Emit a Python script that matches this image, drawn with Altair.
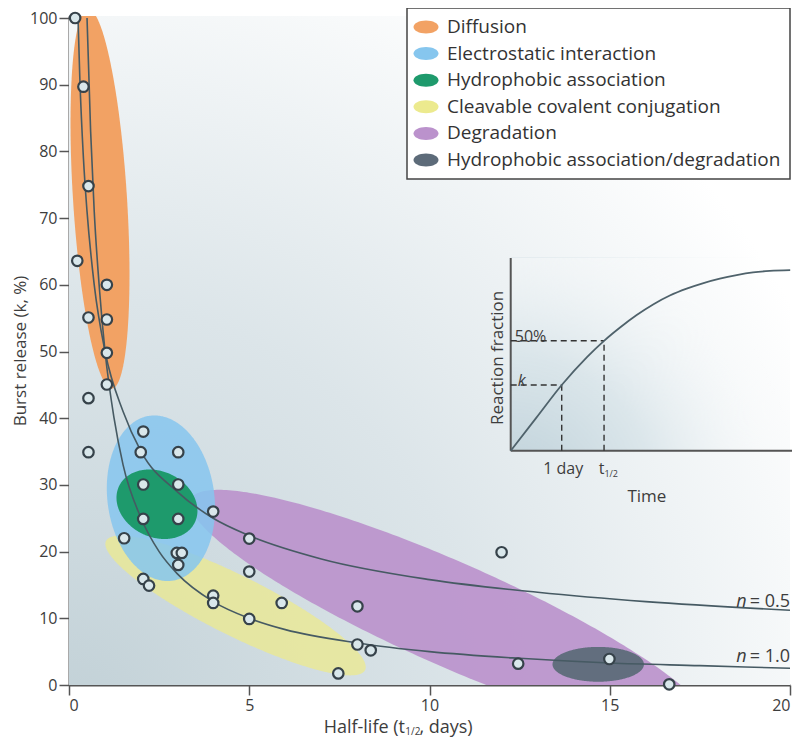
import altair as alt
import numpy as np
import pandas as pd

FONT = "Open Sans"
TXT = "#3d3d3d"

# ---------------- data ----------------
half_life = [0.17, 0.40, 0.54, 0.23, 0.54, 1.05, 1.05, 1.05, 1.05, 0.54, 0.54,
             2.06, 1.99, 3.03, 2.06, 3.03, 2.06, 3.03, 1.53, 2.99, 3.13, 3.03,
             2.06, 2.22, 4.00, 4.00, 4.00, 5.00, 5.00, 5.00, 5.90, 7.47, 8.00,
             8.00, 8.37, 12.0, 12.46, 14.99, 16.65]
burst = [100.0, 89.7, 74.8, 63.6, 55.1, 60.0, 54.8, 49.8, 45.05, 43.0, 34.9,
         38.0, 34.9, 34.9, 30.06, 30.06, 24.9, 24.9, 22.0, 19.8, 19.8, 18.0,
         15.9, 14.9, 26.0, 13.4, 12.3, 21.95, 17.0, 9.9, 12.3, 1.74, 11.8,
         6.07, 5.2, 19.9, 3.2, 3.9, 0.1]

curve_n1_t = [0.5, 0.6, 0.7, 0.85, 1.0, 1.25, 1.5, 2.0, 2.5, 3.0, 4.0, 5.0,
              6.0, 8.0, 10.0, 12.5, 15.0, 17.5, 20.0]
curve_n1_k = [100, 83, 71, 59, 50, 40, 33, 25, 20, 16.7, 12.5, 10, 8.3, 6.3,
              5.0, 4.0, 3.3, 2.9, 2.5]
curve_n05_t = [0.25, 0.3, 0.4, 0.5, 0.7, 1.0, 1.5, 2.0, 3.0, 4.0, 5.0, 7.0,
               10.0, 13.0, 16.0, 20.0]
curve_n05_k = [100, 91, 79, 71, 60, 50, 41, 35, 29, 25, 22.4, 18.9, 15.8,
               13.9, 12.5, 11.2]

mechanisms = ["Diffusion", "Electrostatic interaction", "Hydrophobic association",
              "Cleavable covalent conjugation", "Degradation",
              "Hydrophobic association/degradation"]
mech_colors = ["#f2a264", "#86c6ee", "#1e9a6c", "#ecea8e", "#bb92cc", "#5d6b79"]
mech_opacity = [1.0, 0.85, 1.0, 0.75, 0.92, 0.95]
draw_order = [4, 3, 1, 2, 0, 5]

# regions: centre and two conjugate semi-axis vectors (data units)
reg_cx = [0.86, 2.55, 2.44, 4.62, 10.6, 14.68]
reg_cy = [72.9, 28.0, 27.1, 11.92, 10.6, 3.10]
reg_ux = [-0.333, -0.305, 1.054, 3.592, 7.22, 1.268]
reg_uy = [28.46, 12.37, -2.683, -9.687, -17.27, 0.0]
reg_vx = [0.747, 1.470, -0.388, -0.372, -0.586, 0.0]
reg_vy = [0.253, 1.043, -4.471, -3.994, -7.07, 2.61]

# inset (reaction fraction vs time)
inset_t = [0, 0.5, 1.0, 1.5, 1.83, 2.15, 2.47, 2.8, 3.12, 3.45, 3.78, 4.1,
           4.43, 4.75, 5.08, 5.48]
inset_f = [0, 14.8, 29.6, 42.3, 49.5, 55.6, 61.1, 66.0, 69.9, 73.0, 75.5,
           77.5, 79.1, 80.3, 81.0, 81.3]
inset_day, inset_k = 1.0, 29.6
inset_half, inset_50 = 1.83, 49.5

# ---------------- helpers ----------------
def ellipse_rows(name, cx, cy, ux, uy, vx, vy, n=160):
    R = np.hypot(ux, vx)
    phi = np.arctan2(vx, ux)
    a = np.linspace(np.pi, 0, n)
    x = cx + R * np.cos(a)
    y1 = cy + uy * np.cos(phi + a) + vy * np.sin(phi + a)
    y2 = cy + uy * np.cos(phi - a) + vy * np.sin(phi - a)
    return pd.DataFrame({"name": name, "ex": x, "elo": np.minimum(y1, y2),
                         "ehi": np.maximum(y1, y2)})

W, H = 721, 669
YMAX = 100.3
xs = alt.Scale(domain=[0, 20], nice=False, zero=False)
ys = alt.Scale(domain=[0, YMAX], nice=False, zero=False)
xaxis = alt.Axis(values=[0, 5, 10, 15, 20], title=None, grid=False, tickSize=10,
                 labelPadding=2, labelFontSize=16, labelFont=FONT, labelColor=TXT,
                 domainColor="#555", domainWidth=2, tickColor="#555", tickWidth=1.5)
yaxis = alt.Axis(values=list(range(0, 101, 10)), title="Burst release (k, %)",
                 grid=False, tickSize=10, labelPadding=2, labelFontSize=16,
                 labelFont=FONT, labelColor=TXT, titleFont=FONT, titleFontSize=17,
                 titleFontWeight="normal", titleColor=TXT, titlePadding=0,
                 domainColor="#555", domainWidth=2, tickColor="#555", tickWidth=1.5)

def X(f):
    return alt.X(f, type="quantitative", scale=xs, axis=xaxis)

def Y(f):
    return alt.Y(f, type="quantitative", scale=ys, axis=yaxis)

color_scale = alt.Scale(domain=mechanisms, range=mech_colors)
ELL = ("M -1.25 0 C -1.25 -0.36 -0.69 -0.65 0 -0.65 C 0.69 -0.65 1.25 -0.36 1.25 0 "
       "C 1.25 0.36 0.69 0.65 0 0.65 C -0.69 0.65 -1.25 0.36 -1.25 0 Z")
legend = alt.Legend(title=None, orient="none", legendX=338, legendY=-8,
                    symbolType=ELL, symbolSize=400, symbolStrokeWidth=0,
                    symbolOpacity=1, labelFont=FONT, labelFontSize=19,
                    labelColor="#333", labelOffset=11, rowPadding=6.6, padding=9,
                    strokeColor="#444", fillColor="white", labelLimit=500)

bg = alt.Chart(pd.DataFrame({"x0": [0], "x1": [20], "y0": [0], "y1": [YMAX]})).mark_rect(
    fill=alt.RadialGradient(gradient="radial", x1=0, y1=1, r1=0, x2=0, y2=1, r2=1.15,
                            stops=[alt.GradientStop(offset=0, color="#c2d1d7"),
                                   alt.GradientStop(offset=0.5, color="#dce5e9"),
                                   alt.GradientStop(offset=1, color="#ffffff")])
).encode(x=X("x0"), x2="x1", y=Y("y0"), y2="y1")

layers = [bg]
for i in draw_order:
    d = ellipse_rows(mechanisms[i], reg_cx[i], reg_cy[i], reg_ux[i], reg_uy[i],
                     reg_vx[i], reg_vy[i])
    layers.append(alt.Chart(d).mark_area(opacity=mech_opacity[i], clip=True).encode(
        x=X("ex"), y=Y("elo"), y2="ehi",
        color=alt.Color("name:N", scale=color_scale, legend=legend)))

c1 = pd.DataFrame({"t": curve_n1_t, "k": curve_n1_k})
c05 = pd.DataFrame({"t": curve_n05_t, "k": curve_n05_k})
for c in (c1, c05):
    layers.append(alt.Chart(c).mark_line(color="#465a63", strokeWidth=1.6,
                                         interpolate="monotone", clip=True).encode(
        x=X("t"), y=Y("k")))

pts = pd.DataFrame({"t": half_life, "k": burst})
layers.append(alt.Chart(pts).mark_circle(size=110, color="#d9e7eb", opacity=1,
                                         stroke="#36424a", strokeWidth=2.2).encode(
    x=X("t"), y=Y("k")))

# curve labels
lab = pd.DataFrame({"x": [20, 20], "y": [12.4, 4.2], "t": ["= 0.5", "= 1.0"]})
layers.append(alt.Chart(lab).mark_text(font=FONT, fontSize=18, color=TXT,
                                       align="right").encode(
    x=X("x"), y=Y("y"), text="t:N"))
labn = pd.DataFrame({"x": [18.8, 18.8], "y": [12.4, 4.2], "t": ["n", "n"]})
layers.append(alt.Chart(labn).mark_text(font=FONT, fontSize=18, color=TXT,
                                        fontStyle="italic", align="right").encode(
    x=X("x"), y=Y("y"), text="t:N"))

# x-axis title in pieces (subscript)
xt = pd.DataFrame({"x": [9.32], "y": [-6.4], "t": ["Half-life (t"]})
layers.append(alt.Chart(xt).mark_text(font=FONT, fontSize=18, color=TXT,
                                      align="right").encode(x=X("x"), y=Y("y"), text="t:N"))
xt2 = pd.DataFrame({"x": [9.33], "y": [-7.1], "t": ["1/2"]})
layers.append(alt.Chart(xt2).mark_text(font=FONT, fontSize=10, color=TXT,
                                       align="left").encode(x=X("x"), y=Y("y"), text="t:N"))
xt3 = pd.DataFrame({"x": [9.72], "y": [-6.4], "t": [", days)"]})
layers.append(alt.Chart(xt3).mark_text(font=FONT, fontSize=18, color=TXT,
                                       align="left").encode(x=X("x"), y=Y("y"), text="t:N"))

main = alt.layer(*layers)

# ---------------- inset ----------------
ixs = alt.Scale(domain=[-8.661, 5.476], nice=False, zero=False)
iys = alt.Scale(domain=[-105.54, 195.81], nice=False, zero=False)

def IX(f):
    return alt.X(f, type="quantitative", scale=ixs, axis=None)

def IY(f):
    return alt.Y(f, type="quantitative", scale=iys, axis=None)

ibg = alt.Chart(pd.DataFrame({"x0": [0], "x1": [5.6], "y0": [0], "y1": [87]})).mark_rect(
    fill=alt.RadialGradient(gradient="radial", x1=0, y1=1, r1=0, x2=0, y2=1, r2=1.0,
                            stops=[alt.GradientStop(offset=0, color="rgba(186,206,215,1)"),
                                   alt.GradientStop(offset=0.5, color="rgba(216,228,233,0.85)"),
                                   alt.GradientStop(offset=1, color="rgba(255,255,255,0)")])
).encode(x=IX("x0"), x2="x1", y=IY("y0"), y2="y1")

iax = pd.DataFrame({"x0": [0, 0], "x1": [5.57, 0], "y0": [0, 0], "y1": [0, 86.8]})
iaxes = alt.Chart(iax).mark_rule(color="#555", strokeWidth=2).encode(
    x=IX("x0"), x2="x1", y=IY("y0"), y2="y1")

idash = pd.DataFrame({"x0": [0, inset_half, 0, inset_day],
                      "x1": [inset_half, inset_half, inset_day, inset_day],
                      "y0": [inset_50, 0, inset_k, 0],
                      "y1": [inset_50, inset_50, inset_k, inset_k]})
idashes = alt.Chart(idash).mark_rule(color="#333", strokeWidth=1.4,
                                     strokeDash=[6, 4]).encode(
    x=IX("x0"), x2="x1", y=IY("y0"), y2="y1")

icurve = alt.Chart(pd.DataFrame({"t": inset_t, "f": inset_f})).mark_line(
    color="#4f626b", strokeWidth=1.8, interpolate="monotone").encode(x=IX("t"), y=IY("f"))

def itext(x, y, s, size=17, **kw):
    return alt.Chart(pd.DataFrame({"x": [x], "y": [y], "t": [s]})).mark_text(
        font=FONT, fontSize=size, color=TXT, **kw).encode(x=IX("x"), y=IY("y"), text="t:N")

itexts = [
    itext(-0.24, 41.8, "Reaction fraction", angle=270, align="center", baseline="middle"),
    itext(0.08, 51.4, "50%", size=16, align="left"),
    itext(0.14, 31.5, "k", size=16, align="left", fontStyle="italic"),
    itext(1.03, -8.2, "1 day", size=16, align="center"),
    itext(1.78, -8.2, "t", size=16, align="center"),
    itext(1.97, -10.5, "1/2", size=9, align="center"),
    itext(2.67, -20.8, "Time", size=17, align="center"),
]

inset = alt.layer(ibg, iaxes, idashes, icurve, *itexts)

chart = alt.layer(main, inset).resolve_scale(x="independent", y="independent").properties(
    width=W, height=H, padding={"left": 61, "top": 8, "right": 2, "bottom": 54},
    autosize=alt.AutoSizeParams(type="none")
).configure_view(stroke=None).configure_legend(strokeWidth=1.5)

chart.save("out.html", embed_options={"renderer": "svg", "actions": False})
